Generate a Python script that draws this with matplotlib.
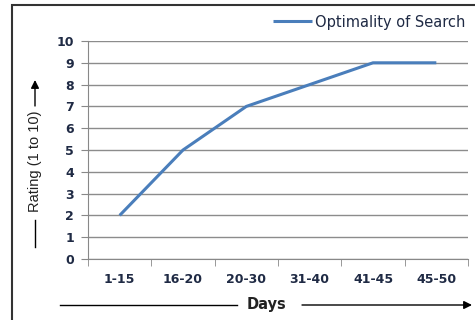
import matplotlib.pyplot as plt
from matplotlib.patches import Rectangle
import numpy as np

# data
days = ['1-15', '16-20', '20-30', '31-40', '41-45', '45-50']
rating = [2, 5, 7, 8, 9, 9]
series_name = 'Optimality of Search'

W, H = 475, 320
fig = plt.figure(figsize=(W / 100, H / 100), dpi=100)

def fx(px):
  return px / W

def fy(py):
  return 1 - py / H

ax = fig.add_axes([fx(88), fy(259), fx(468) - fx(88), fy(41) - fy(259)])

x = np.arange(len(days))
line, = ax.plot(x, rating, color='#4A7EBB', lw=2.2, solid_capstyle='butt')

ax.set_xlim(-0.5, len(days) - 0.5)
ax.set_ylim(0, 10)
ax.set_yticks(range(0, 11))
ax.set_xticks(x)
ax.set_xticklabels(days)
ax.set_xticks(np.arange(-0.5, len(days)), minor=True)
ax.tick_params(axis='x', which='major', length=0, pad=10)
ax.tick_params(axis='x', which='minor', length=5, color='#888888')
ax.tick_params(axis='y', length=5, color='#888888', pad=5)
ax.tick_params(labelsize=9, labelcolor='#1F2A44')
for lab in ax.get_xticklabels() + ax.get_yticklabels():
  lab.set_fontweight('bold')
  lab.set_fontfamily('DejaVu Sans')

ax.grid(axis='y', color='#8C8C8C', lw=1.0)
ax.set_axisbelow(True)
for s in ('top', 'right'):
  ax.spines[s].set_visible(False)
ax.spines['left'].set_color('#888888')
ax.spines['bottom'].set_color('#888888')

# legend
fig.legend([line], [series_name], loc='center left',
           bbox_to_anchor=(fx(273), fy(22)), frameon=False,
           fontsize=10.5, handlelength=2.7, handletextpad=0.2,
           borderaxespad=0, borderpad=0, labelcolor='#1F2A44')

# outer frame
fig.add_artist(Rectangle((fx(12), fy(330)), fx(480), fy(5) - fy(330),
                         transform=fig.transFigure, fill=False,
                         edgecolor='#333333', lw=1.5))

# x axis label with arrow lines
fig.text(fx(266), fy(305), 'Days', ha='center', va='center',
         fontsize=10.5, fontweight='bold', color='#222222')
fig.add_artist(plt.Line2D([fx(60), fx(237)], [fy(305), fy(305)],
                          color='black', lw=1.0))
ax.annotate('', xy=(fx(472), fy(305)), xytext=(fx(302), fy(305)),
            xycoords='figure fraction', textcoords='figure fraction',
            arrowprops=dict(arrowstyle='-|>', color='black', lw=1.0,
                            mutation_scale=12, shrinkA=0, shrinkB=0))

# y axis label with arrow lines
fig.text(fx(35), fy(161), 'Rating (1 to 10)', ha='center', va='center',
         rotation=90, fontsize=10.5, color='#222222',
         family='Liberation Sans')
fig.add_artist(plt.Line2D([fx(35), fx(35)], [fy(247), fy(220)],
                          color='black', lw=1.0))
ax.annotate('', xy=(fx(35), fy(80)), xytext=(fx(35), fy(106)),
            xycoords='figure fraction', textcoords='figure fraction',
            arrowprops=dict(arrowstyle='-|>', color='black', lw=1.0,
                            mutation_scale=12, shrinkA=0, shrinkB=0))

fig.savefig('out.png', dpi=100)
